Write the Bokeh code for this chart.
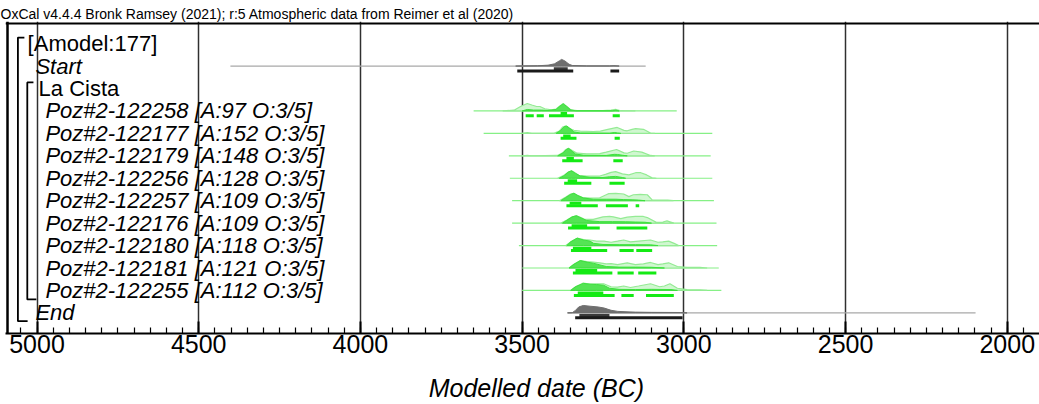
from bokeh.plotting import figure
from bokeh.models import Range1d, FixedTicker, Span, Label
from bokeh.embed import file_html
from bokeh.resources import INLINE

# ---------------- data ----------------
header = "OxCal v4.4.4 Bronk Ramsey (2021); r:5 Atmospheric data from Reimer et al (2020)"
x_title = "Modelled date (BC)"
major_ticks = [5000, 4500, 4000, 3500, 3000, 2500, 2000]
minor_ticks = list(range(1900, 5101, 50))

row_labels = ["[Amodel:177]", "Start", "La Cista",
              "Poz#2-122258 [A:97 O:3/5]", "Poz#2-122177 [A:152 O:3/5]",
              "Poz#2-122179 [A:148 O:3/5]", "Poz#2-122256 [A:128 O:3/5]",
              "Poz#2-122257 [A:109 O:3/5]", "Poz#2-122176 [A:109 O:3/5]",
              "Poz#2-122180 [A:118 O:3/5]", "Poz#2-122181 [A:121 O:3/5]",
              "Poz#2-122255 [A:112 O:3/5]", "End"]
row_italic = [False, True, False] + [True] * 9 + [True]

# rows carrying distributions (index into row_labels), and their kind
dist_rows = [1, 3, 4, 5, 6, 7, 8, 9, 10, 11, 12]
dist_kind = ["boundary"] + ["date"] * 9 + ["boundary"]

line_from = [4402, 3650, 3619, 3541, 3538, 3531, 3531, 3510, 3500, 3500, 3358]
line_to = [3118, 3022, 2912, 2917, 2912, 2907, 2899, 2897, 2892, 2884, 2098]

prior_years = [
    None,
    [3560, 3525, 3505, 3484, 3470, 3455, 3445, 3430, 3410, 3395, 3385, 3373, 3362, 3350, 3330, 3250, 3225, 3211, 3195, 3150],
    [3500, 3484, 3470, 3400, 3385, 3375, 3366, 3355, 3340, 3320, 3280, 3258, 3235, 3206, 3185, 3175, 3160, 3149, 3125, 3103, 3090],
    [3500, 3484, 3470, 3390, 3375, 3365, 3356, 3345, 3330, 3300, 3260, 3240, 3208, 3185, 3175, 3155, 3130, 3103, 3090],
    [3390, 3371, 3357, 3347, 3335, 3325, 3300, 3260, 3240, 3225, 3211, 3190, 3170, 3149, 3133, 3115, 3098, 3085],
    [3385, 3366, 3350, 3340, 3328, 3314, 3290, 3260, 3240, 3232, 3210, 3186, 3170, 3156, 3135, 3113, 3098, 3072, 3050, 3032],
    [3380, 3363, 3345, 3332, 3318, 3305, 3280, 3250, 3230, 3218, 3195, 3175, 3150, 3125, 3113, 3085, 3065, 3052, 3031],
    [3365, 3350, 3330, 3310, 3290, 3270, 3247, 3225, 3205, 3186, 3165, 3140, 3103, 3080, 3065, 3047, 3030, 3016],
    [3355, 3340, 3320, 3300, 3280, 3260, 3240, 3225, 3205, 3175, 3150, 3125, 3103, 3080, 3065, 3047, 3020, 2990, 2950, 2928],
    [3350, 3335, 3311, 3290, 3270, 3248, 3225, 3205, 3186, 3165, 3140, 3103, 3075, 3060, 3043, 3020, 2990, 2950, 2928],
    None,
]
prior_dens = [
    None,
    [0, 0.1, 0.6, 1.0, 0.8, 0.6, 0.6, 0.3, 0.15, 0.25, 0.6, 1.0, 0.6, 0.15, 0.05, 0.03, 0.1, 0.2, 0.03, 0],
    [0, 0.1, 0, 0.05, 0.3, 0.85, 1.0, 0.7, 0.4, 0.3, 0.25, 0.3, 0.55, 0.8, 0.4, 0.35, 0.55, 0.65, 0.55, 0.05, 0],
    [0, 0.05, 0, 0.05, 0.4, 0.85, 1.0, 0.7, 0.35, 0.28, 0.3, 0.5, 0.85, 0.4, 0.35, 0.65, 0.5, 0.05, 0],
    [0, 0.4, 0.85, 1.0, 0.7, 0.4, 0.3, 0.3, 0.55, 0.8, 0.9, 0.6, 0.45, 0.75, 0.75, 0.45, 0.05, 0],
    [0, 0.45, 0.9, 1.0, 0.7, 0.45, 0.35, 0.4, 0.8, 0.95, 1.0, 0.9, 0.55, 0.8, 0.85, 0.8, 0.1, 0.07, 0.07, 0],
    [0, 0.4, 0.85, 1.0, 0.75, 0.5, 0.5, 0.85, 0.9, 0.85, 0.6, 0.8, 0.9, 0.9, 0.75, 0.1, 0.15, 0.3, 0],
    [0, 0.5, 1.0, 0.8, 0.75, 0.6, 0.6, 0.45, 0.6, 0.75, 0.5, 0.6, 0.75, 0.45, 0.5, 0.6, 0.3, 0],
    [0, 0.5, 1.0, 0.85, 0.8, 0.7, 0.55, 0.6, 0.45, 0.7, 0.45, 0.55, 0.75, 0.45, 0.55, 0.7, 0.2, 0.1, 0.08, 0],
    [0, 0.5, 1.0, 0.85, 0.9, 0.9, 0.5, 0.45, 0.6, 0.4, 0.6, 0.9, 0.5, 0.6, 0.9, 0.3, 0.12, 0.08, 0],
    None,
]

post_years = [
    [3520, 3453, 3420, 3400, 3385, 3378, 3368, 3355, 3345, 3300, 3230, 3216, 3200],
    [3500, 3484, 3465, 3440, 3420, 3395, 3385, 3373, 3362, 3350, 3335, 3220, 3211, 3200],
    [3395, 3381, 3370, 3362, 3350, 3340, 3320, 3230, 3214, 3205, 3195],
    [3390, 3373, 3362, 3356, 3345, 3335, 3310, 3240, 3215, 3205, 3190, 3175],
    [3385, 3370, 3357, 3347, 3335, 3320, 3290, 3250, 3230, 3211, 3190, 3180],
    [3380, 3366, 3350, 3340, 3328, 3310, 3280, 3240, 3210, 3186, 3160, 3140, 3120],
    [3375, 3363, 3345, 3332, 3318, 3300, 3260, 3220, 3180, 3150, 3120, 3100],
    [3362, 3350, 3330, 3310, 3290, 3279, 3250, 3200, 3150, 3103, 3080],
    [3355, 3340, 3320, 3300, 3280, 3262, 3240, 3200, 3150, 3100, 3060],
    [3350, 3335, 3311, 3290, 3270, 3248, 3230, 3200, 3150, 3100, 3040, 3020],
    [3360, 3345, 3336, 3325, 3311, 3290, 3265, 3246, 3225, 3204, 3150, 3100, 3010, 2990],
]
post_dens = [
    [0, 0.04, 0.12, 0.3, 0.7, 0.9, 0.7, 0.25, 0.08, 0.02, 0.02, 0.05, 0],
    [0, 0.2, 0.12, 0.12, 0.06, 0.2, 0.6, 0.95, 0.6, 0.15, 0.02, 0.02, 0.1, 0],
    [0, 0.4, 0.9, 1.0, 0.6, 0.2, 0.05, 0.02, 0.12, 0.05, 0],
    [0, 0.4, 0.9, 1.0, 0.6, 0.25, 0.08, 0.05, 0.2, 0.18, 0.08, 0],
    [0, 0.35, 0.85, 1.0, 0.65, 0.3, 0.12, 0.1, 0.2, 0.25, 0.1, 0],
    [0, 0.4, 0.85, 1.0, 0.7, 0.35, 0.2, 0.2, 0.2, 0.15, 0.12, 0.08, 0],
    [0, 0.35, 0.85, 1.0, 0.7, 0.35, 0.2, 0.2, 0.18, 0.15, 0.12, 0],
    [0, 0.5, 1.0, 0.75, 0.6, 0.3, 0.15, 0.12, 0.12, 0.1, 0],
    [0, 0.5, 1.0, 0.8, 0.65, 0.45, 0.2, 0.12, 0.12, 0.1, 0],
    [0, 0.5, 0.95, 0.85, 0.8, 0.7, 0.3, 0.15, 0.12, 0.15, 0.12, 0],
    [0, 0.03, 0.3, 0.8, 1.0, 0.9, 0.8, 0.65, 0.35, 0.2, 0.1, 0.07, 0.05, 0],
]

range68 = [
    [(3402, 3359)],
    [(3381, 3361)],
    [(3373, 3350)],
    [(3363, 3340)],
    [(3359, 3330)],
    [(3353, 3317)],
    [(3347, 3299)],
    [(3343, 3286)],
    [(3335, 3268)],
    [(3328, 3249)],
    [(3323, 3230)],
]
range95 = [
    [(3515, 3342), (3227, 3200)],
    [(3489, 3464), (3455, 3433), (3417, 3340), (3220, 3198)],
    [(3381, 3332), (3214, 3198)],
    [(3376, 3313), (3218, 3189)],
    [(3370, 3286), (3230, 3183)],
    [(3363, 3266), (3241, 3173), (3149, 3138)],
    [(3358, 3260), (3208, 3113)],
    [(3349, 3237), (3199, 3155), (3147, 3098)],
    [(3343, 3221), (3205, 3155), (3141, 3085)],
    [(3340, 3214), (3193, 3155), (3117, 3031)],
    [(3336, 3004)],
]

# ---------------- layout / style ----------------
label_x = [5029, 5005, 4995] + [4974] * 9 + [5005]
FONT = "Liberation Sans"
H = 0.33          # row units per unit density
OFF68, OFF95 = 0.115, 0.22

p = figure(width=1039, height=404, output_backend="svg", toolbar_location=None,
           x_range=Range1d(5097.4, 1900.3), y_range=Range1d(12.919, -0.986),
           min_border_left=5, min_border_right=0, min_border_top=21, min_border_bottom=70)
p.outline_line_color = None
p.background_fill_color = "white"
p.border_fill_color = "white"
p.yaxis.visible = False
p.ygrid.visible = False
p.xgrid.ticker = FixedTicker(ticks=major_ticks)
p.xgrid.grid_line_color = "#303030"
p.xgrid.grid_line_width = 1.5

# header as title
p.title.text = header
p.title.text_font = FONT
p.title.text_font_size = "14px"
p.title.text_font_style = "normal"
p.title.text_color = "black"
p.title.align = "left"
p.title.offset = -5
p.title.standoff = 0

ax = p.xaxis[0]
ax.ticker = FixedTicker(ticks=major_ticks, minor_ticks=minor_ticks)
ax.axis_line_width = 2
ax.axis_line_color = "black"
ax.major_tick_in = 12
ax.major_tick_out = 0
ax.major_tick_line_width = 2
ax.minor_tick_in = 6
ax.minor_tick_out = 0
ax.minor_tick_line_width = 1.2
ax.major_label_text_font = FONT
ax.major_label_text_font_size = "25px"
ax.major_label_text_color = "black"
ax.major_label_standoff = 1
ax.axis_label = "\u00a0\u00a0\u00a0\u00a0" + x_title
ax.axis_label_text_font = FONT
ax.axis_label_text_font_size = "25px"
ax.axis_label_text_font_style = "italic"
ax.axis_label_text_color = "black"
ax.axis_label_standoff = 18

# frame borders (left and top)
p.add_layout(Span(location=5091.2, dimension="height", line_color="black", line_width=2.5))
p.add_layout(Span(location=-0.897, dimension="width", line_color="black", line_width=2))

# model brackets
p.multi_line(xs=[[5039, 5059, 5059, 5029], [5011, 5030, 5030, 5002]],
             ys=[[0 - 0.27, 0 - 0.27, 12 + 0.37, 12 + 0.37], [2 - 0.27, 2 - 0.27, 11 + 0.4, 11 + 0.4]],
             line_color="black", line_width=1.8)

# distributions
for i, r in enumerate(dist_rows):
    boundary = dist_kind[i] == "boundary"
    base_col = "#a8a8a8" if boundary else "#86f086"
    p.line([line_from[i], line_to[i]], [r, r], line_color=base_col, line_width=1.2)
    if prior_years[i] is not None:
        xs = prior_years[i] + prior_years[i][::-1]
        ys = [r - H * d for d in prior_dens[i]] + [r] * len(prior_years[i])
        p.patch(xs, ys, fill_color="#d0f7d0", fill_alpha=1.0, line_color="#94eb94", line_width=1.2)
    xs = post_years[i] + post_years[i][::-1]
    ys = [r - H * d for d in post_dens[i]] + [r] * len(post_years[i])
    if boundary:
        p.patch(xs, ys, fill_color="#6e6e6e", line_color="#6e6e6e", line_width=1)
    else:
        p.patch(xs, ys, fill_color="#3ee03e", fill_alpha=0.85, line_color="#3ee03e", line_width=1)
    c68 = "#3a3a3a" if boundary else "#14ea14"
    c95 = "#1a1a1a" if boundary else "#14ea14"
    p.segment(x0=[a for a, b in range68[i]], x1=[b for a, b in range68[i]],
              y0=[r + OFF68] * len(range68[i]), y1=[r + OFF68] * len(range68[i]),
              line_color=c68, line_width=3)
    p.segment(x0=[a for a, b in range95[i]], x1=[b for a, b in range95[i]],
              y0=[r + OFF95] * len(range95[i]), y1=[r + OFF95] * len(range95[i]),
              line_color=c95, line_width=3)

# row labels
for k, lab in enumerate(row_labels):
    p.add_layout(Label(x=label_x[k], y=k, text=lab, text_font=FONT, text_font_size="22px",
                       text_font_style="italic" if row_italic[k] else "normal",
                       text_color="black", text_baseline="middle", text_align="left"))

open("out.html", "w").write(file_html(p, INLINE))
